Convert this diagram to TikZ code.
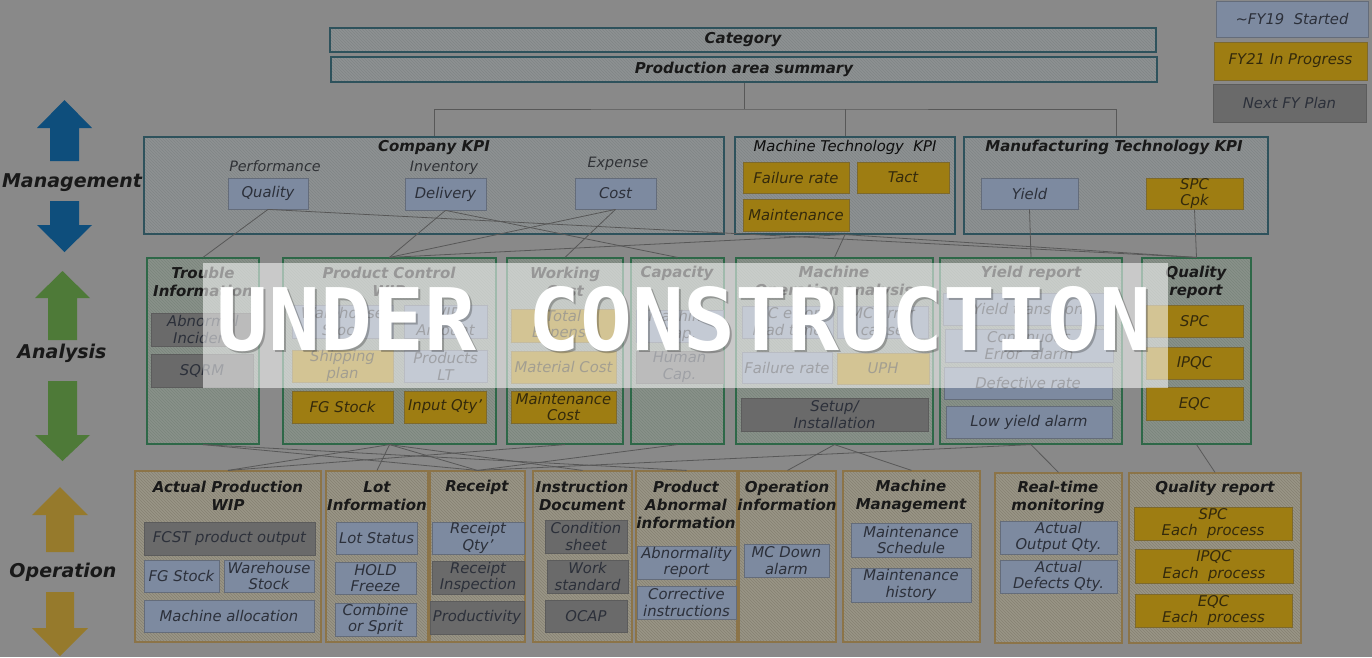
\documentclass[tikz,border=0pt]{standalone}
\usepackage{fontspec}
\setmainfont{DejaVu Sans}[ItalicFont={DejaVu Sans Oblique},BoldFont={DejaVu Sans Bold},BoldItalicFont={DejaVu Sans Bold Oblique}]
\newfontfamily\bannerfont{DejaVu Sans Mono}[BoldFont={DejaVu Sans Mono Bold}]
\usetikzlibrary{patterns}
\definecolor{bgc}{RGB}{137,137,137}
\definecolor{bluef}{RGB}{125,138,160}
\definecolor{blueb}{RGB}{100,108,122}
\definecolor{goldf}{RGB}{158,125,18}
\definecolor{goldb}{RGB}{125,105,45}
\definecolor{grayf}{RGB}{106,106,106}
\definecolor{grayb}{RGB}{92,92,92}
\definecolor{topf}{RGB}{142,145,146}
\definecolor{toph}{RGB}{128,133,135}
\definecolor{topb}{RGB}{46,82,92}
\definecolor{anaf}{RGB}{137,145,138}
\definecolor{anah}{RGB}{122,133,124}
\definecolor{anab}{RGB}{46,104,72}
\definecolor{opf}{RGB}{153,149,134}
\definecolor{oph}{RGB}{134,129,114}
\definecolor{opb}{RGB}{140,116,72}
\definecolor{txt}{RGB}{44,48,58}
\definecolor{goldtxt}{RGB}{52,42,12}
\definecolor{lbltxt}{RGB}{48,50,54}
\definecolor{linec}{RGB}{88,88,88}
\definecolor{arrblue}{RGB}{14,78,124}
\definecolor{arrgreen}{RGB}{78,122,56}
\definecolor{arrgold}{RGB}{150,122,44}
\newcommand\bx[7]{\node[#2, minimum width={(#5)-(#3)}, minimum height={(#6)-(#4)}] (#1) at ({((#3)+(#5))/2},{((#4)+(#6))/2}) {#7};}
\begin{document}
\begin{tikzpicture}[x=1pt,y=-1pt,
  base/.style={font=\fontsize{14.8}{16.8}\selectfont\itshape, align=center, inner sep=0pt, text=txt},
  bluebox/.style={base, draw=blueb, fill=bluef, line width=0.8pt},
  goldbox/.style={base, draw=goldb, fill=goldf, line width=0.8pt, text=goldtxt},
  graybox/.style={base, draw=grayb, fill=grayf, line width=0.8pt},
  topgrp/.style={draw=topb, line width=1.2pt, preaction={fill=topf}, pattern=north west lines, pattern color=toph, inner sep=0pt},
  hdrbox/.style={topgrp, font=\fontsize{15}{17}\selectfont\bfseries\itshape, text=black!90},
  anagrp/.style={draw=anab, line width=1.2pt, preaction={fill=anaf}, pattern=north west lines, pattern color=anah, inner sep=0pt},
  opgrp/.style={draw=opb, line width=1.2pt, preaction={fill=opf}, pattern=north west lines, pattern color=oph, inner sep=0pt},
  grptitle/.style={font=\fontsize{15}{18}\selectfont\bfseries\itshape, align=center, text=black!90, inner sep=0pt},
  lbl/.style={font=\fontsize{14.3}{16}\selectfont\itshape, text=lbltxt, inner sep=0pt},
  sidelbl/.style={font=\fontsize{19}{22}\selectfont\bfseries\itshape, text=black!90, inner sep=0pt},
  conn/.style={draw=linec, line width=0.8pt}]
\useasboundingbox (0,0) rectangle (1372,657);
\fill[bgc] (0,0) rectangle (1372,657);

% ---------- side arrows ----------
\fill[arrblue] (37,128) -- (64.5,100) -- (92,128) -- (79,128) -- (79,161) -- (50,161) -- (50,128) -- cycle;
\fill[arrblue] (50,201) -- (79,201) -- (79,225) -- (92,225) -- (64.5,252) -- (37,225) -- (50,225) -- cycle;
\node[sidelbl] (mgmt) at (72,183) {Management};
\fill[arrgreen] (35,298) -- (62.5,271) -- (90,298) -- (77,298) -- (77,340) -- (48,340) -- (48,298) -- cycle;
\fill[arrgreen] (48,381) -- (77,381) -- (77,435) -- (90,435) -- (62.5,461) -- (35,435) -- (48,435) -- cycle;
\node[sidelbl] (ana) at (62,353) {Analysis};
\fill[arrgold] (32,515) -- (60,487) -- (88,515) -- (74,515) -- (74,552) -- (46,552) -- (46,515) -- cycle;
\fill[arrgold] (46,592) -- (74,592) -- (74,628) -- (88,628) -- (60,656) -- (32,628) -- (46,628) -- cycle;
\node[sidelbl] (oper) at (63,572) {Operation};

% ---------- legend ----------
\bx{lg1}{bluebox}{1216}{1}{1368}{37}{\textasciitilde FY19\ \ Started}
\bx{lg2}{goldbox}{1214}{42}{1367}{80}{FY21 In Progress}
\bx{lg3}{graybox}{1213}{84}{1366}{122}{Next FY Plan}

% ---------- header ----------
\bx{cat}{hdrbox}{330}{28}{1156}{52}{Category}
\bx{pas}{hdrbox}{331}{57}{1157}{82}{Production area summary}

% ---------- KPI row ----------
\bx{ckpi}{topgrp}{144}{137}{724}{234}{}
\node[grptitle] (ckpit) at (434,148) {Company KPI};
\node[lbl] (perf) at (275,166) {Performance};
\node[lbl] (inv) at (444,168) {Inventory};
\node[lbl] (expn) at (618,164) {Expense};
\bx{qual}{bluebox}{228}{178}{308}{209}{Quality}
\bx{deliv}{bluebox}{405}{178}{486}{210}{Delivery}
\bx{cost}{bluebox}{575}{178}{656}{209}{Cost}

\bx{mtk}{topgrp}{735}{137}{955}{234}{}
\node[lbl, font=\fontsize{14.8}{16}\selectfont\itshape, text=black!95] (mtkt) at (845,147) {Machine Technology\ \ KPI};
\bx{mfail}{goldbox}{743}{162}{849}{193}{Failure rate}
\bx{mtact}{goldbox}{857}{162}{949}{193}{Tact}
\bx{mmaint}{goldbox}{743}{199}{849}{231}{Maintenance}

\bx{mfg}{topgrp}{964}{137}{1268}{234}{}
\node[grptitle] (mfgt) at (1114,147) {Manufacturing Technology KPI};
\bx{yield}{bluebox}{981}{178}{1078}{209}{Yield}
\bx{spccpk}{goldbox}{1146}{178}{1243}{209}{SPC\\Cpk}

% ---------- Analysis row ----------
\bx{trouble}{anagrp}{147}{258}{259}{444}{}
\node[grptitle] (troublet) at (203,282) {Trouble\\Information};
\bx{abinc}{graybox}{151}{313}{255}{346}{Abnormal\\Incident}
\bx{sqrm}{graybox}{151}{354}{253}{387}{SQRM}

\bx{pcwip}{anagrp}{283}{258}{496}{444}{}
\node[grptitle] (pcwipt) at (389,282) {Product Control\\WIP};
\bx{whs}{bluebox}{292}{305}{393}{338}{Warehouse\\Stock}
\bx{wipa}{bluebox}{404}{305}{487}{338}{WIP\\Amount}
\bx{ship}{goldbox}{292}{350}{393}{382}{Shipping\\plan}
\bx{plt}{bluebox}{404}{350}{487}{382}{Products\\LT}
\bx{fgs}{goldbox}{292}{391}{393}{423}{FG Stock}
\bx{inq}{goldbox}{404}{391}{486}{423}{Input Qty’}

\bx{wcost}{anagrp}{507}{258}{623}{444}{}
\node[grptitle] (wcostt) at (565,282) {Working\\Cost};
\bx{texp}{goldbox}{511}{309}{616}{342}{Total\\Expense}
\bx{matc}{goldbox}{511}{351}{616}{383}{Material Cost}
\bx{mntc}{goldbox}{511}{391}{616}{423}{Maintenance\\Cost}

\bx{cap}{anagrp}{631}{258}{724}{444}{}
\node[grptitle] (capt) at (677,273) {Capacity};
\bx{mcap}{bluebox}{636}{310}{723}{342}{Machine\\Cap.}
\bx{hcap}{graybox}{636}{351}{723}{383}{Human\\Cap.}

\bx{mop}{anagrp}{736}{258}{933}{444}{}
\node[grptitle] (mopt) at (834,282) {Machine\\Operation analysis};
\bx{mclt}{bluebox}{742}{306}{833}{338}{MC error\\lead time}
\bx{mcca}{bluebox}{837}{306}{928}{338}{MC error\\cause}
\bx{afail}{bluebox}{742}{352}{832}{383}{Failure rate}
\bx{uph}{goldbox}{837}{353}{929}{384}{UPH}
\bx{setup}{graybox}{741}{398}{928}{431}{Setup/\\Installation}

\bx{yrep}{anagrp}{940}{258}{1122}{444}{}
\node[grptitle] (yrept) at (1031,273) {Yield report};
\bx{ytr}{bluebox}{943}{293}{1113}{325}{Yield transition}
\bx{cerr}{bluebox}{945}{329}{1113}{362}{Continuous\\Error\ \ alarm}
\bx{defr}{bluebox}{944}{367}{1112}{399}{Defective rate}
\bx{lya}{bluebox}{946}{406}{1112}{438}{Low yield alarm}

\bx{qrep}{anagrp}{1142}{258}{1251}{444}{}
\node[grptitle] (qrept) at (1196,282) {Quality\\report};
\bx{aspc}{goldbox}{1146}{305}{1243}{337}{SPC}
\bx{aipqc}{goldbox}{1146}{347}{1243}{379}{IPQC}
\bx{aeqc}{goldbox}{1146}{387}{1243}{420}{EQC}

% ---------- Operation row ----------
\bx{aprod}{opgrp}{135}{471}{321}{642}{}
\node[grptitle] (aprodt) at (228,496) {Actual Production\\WIP};
\bx{fcst}{graybox}{144}{522}{315}{555}{FCST product output}
\bx{ofgs}{bluebox}{144}{560}{219}{592}{FG Stock}
\bx{owhs}{bluebox}{224}{560}{314}{592}{Warehouse\\Stock}
\bx{malloc}{bluebox}{144}{600}{314}{632}{Machine allocation}

\bx{lot}{opgrp}{326}{471}{428}{642}{}
\node[grptitle] (lott) at (377,496) {Lot\\Information};
\bx{lsta}{bluebox}{336}{522}{417}{554}{Lot Status}
\bx{hold}{bluebox}{335}{562}{416}{594}{HOLD\\Freeze}
\bx{comb}{bluebox}{335}{603}{416}{636}{Combine\\or Sprit}

\bx{rec}{opgrp}{430}{471}{525}{642}{}
\node[grptitle] (rect) at (477,487) {Receipt};
\bx{recq}{bluebox}{432}{522}{524}{554}{Receipt\\Qty’}
\bx{reci}{graybox}{432}{561}{524}{594}{Receipt\\Inspection}
\bx{prod}{graybox}{430}{601}{524}{634}{Productivity}

\bx{instr}{opgrp}{533}{471}{632}{642}{}
\node[grptitle] (instrt) at (582,496) {Instruction\\Document};
\bx{cond}{graybox}{545}{520}{627}{553}{Condition\\sheet}
\bx{works}{graybox}{547}{560}{628}{593}{Work\\standard}
\bx{ocap}{graybox}{545}{600}{627}{632}{OCAP}

\bx{pabn}{opgrp}{636}{471}{737}{642}{}
\node[grptitle] (pabnt) at (686,505) {Product\\Abnormal\\information};
\bx{abrep}{bluebox}{637}{546}{736}{579}{Abnormality\\report}
\bx{corr}{bluebox}{637}{586}{736}{619}{Corrective\\instructions}

\bx{opinf}{opgrp}{739}{471}{836}{642}{}
\node[grptitle] (opinft) at (787,496) {Operation\\information};
\bx{mcdown}{bluebox}{744}{544}{829}{577}{MC Down\\alarm}

\bx{mmg}{opgrp}{843}{471}{980}{642}{}
\node[grptitle] (mmgt) at (911,496) {Machine\\Management};
\bx{msch}{bluebox}{851}{523}{971}{557}{Maintenance\\Schedule}
\bx{mhist}{bluebox}{851}{568}{971}{602}{Maintenance\\history}

\bx{rtm}{opgrp}{995}{473}{1122}{643}{}
\node[grptitle] (rtmt) at (1058,497) {Real-time\\monitoring};
\bx{aoq}{bluebox}{1000}{521}{1117}{554}{Actual\\Output Qty.}
\bx{adq}{bluebox}{1000}{560}{1117}{593}{Actual\\Defects Qty.}

\bx{qop}{opgrp}{1129}{473}{1301}{643}{}
\node[grptitle] (qopt) at (1215,488) {Quality report};
\bx{ospc}{goldbox}{1134}{507}{1292}{540}{SPC\\Each\ \ process}
\bx{oipqc}{goldbox}{1135}{549}{1293}{583}{IPQC\\Each\ \ process}
\bx{oeqc}{goldbox}{1135}{594}{1292}{627}{EQC\\Each\ \ process}

% ---------- connectors ----------
\coordinate (bus) at (744,109);
\draw[conn] (pas.south) -- (bus);
\draw[conn] (ckpi.north) |- (bus) -| (mfg.north);
\draw[conn] (mtk.north) -- (mtk.north |- bus);

\draw[conn] (qual.south) -- (trouble.north);
\draw[conn] (qual.south) -- (qrep.north);
\draw[conn] (deliv.south) -- (pcwip.north);
\draw[conn] (deliv.south) -- (cap.north);
\draw[conn] (cost.south) -- (pcwip.north);
\draw[conn] (cost.south) -- (wcost.north);
\draw[conn] (pcwip.north) -- (mtk.south);
\draw[conn] (mtk.south) -- (mop.north);
\draw[conn] (mtk.south) -- (qrep.north);
\draw[conn] (yield.south) -- (yrep.north);
\draw[conn] (spccpk.south) -- (qrep.north);

\draw[conn] (trouble.south) -- (rec.north);
\draw[conn] (trouble.south) -- (pabn.north);
\draw[conn] (pcwip.south) -- (aprod.north);
\draw[conn] (pcwip.south) -- (lot.north);
\draw[conn] (pcwip.south) -- (rec.north);
\draw[conn] (pcwip.south) -- (instr.north);
\draw[conn] (wcost.south) -- (aprod.north);
\draw[conn] (cap.south) -- (rec.north);
\draw[conn] (mop.south) -- (opinf.north);
\draw[conn] (mop.south) -- (mmg.north);
\draw[conn] (yrep.south) -- (rec.north);
\draw[conn] (yrep.south) -- (rtm.north);
\draw[conn] (qrep.south) -- (qop.north);

% ---------- banner ----------
\fill[white, opacity=0.55] (203,263) rectangle (1168,388);
\node[anchor=base, inner sep=0pt, text=black, opacity=0.25, font=\bannerfont\bfseries\fontsize{86.3}{86}\selectfont] (bannershadow) at (686,352) {UNDER CONSTRUCTION};
\node[anchor=base, inner sep=0pt, text=white, font=\bannerfont\bfseries\fontsize{86.3}{86}\selectfont] (banner) at (684,350) {UNDER CONSTRUCTION};
\end{tikzpicture}
\end{document}
